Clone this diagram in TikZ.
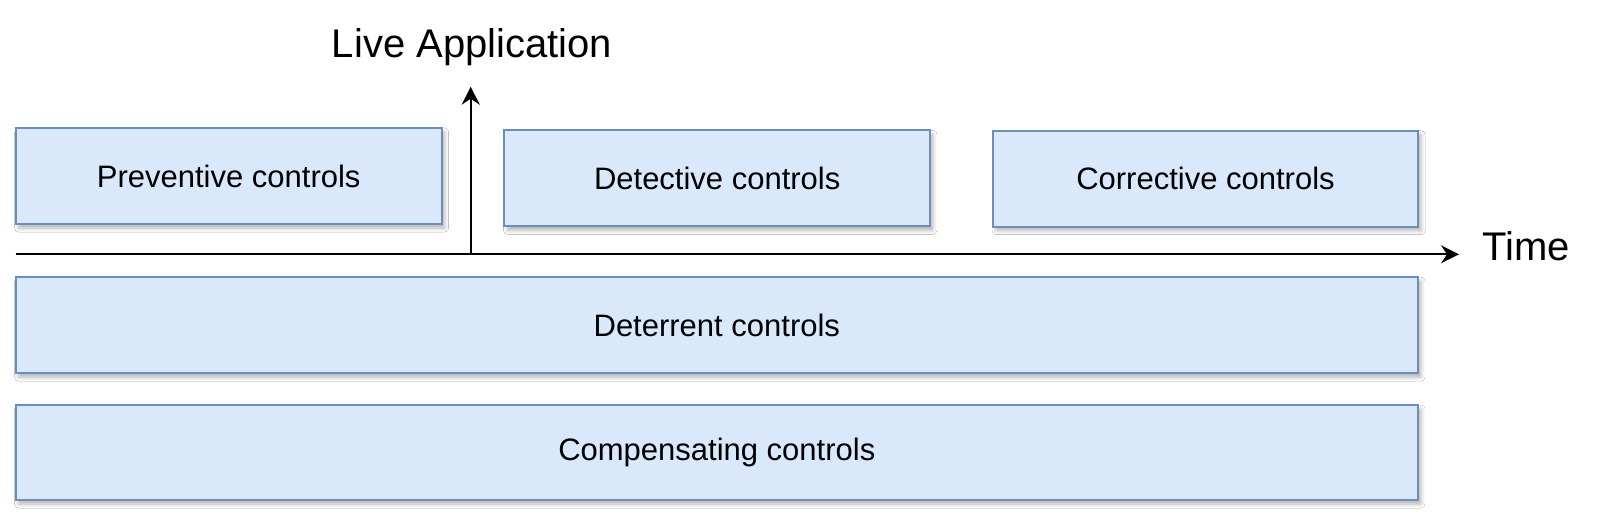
\documentclass[tikz,border=0pt]{standalone}
\usepackage{fontspec}
\setmainfont{Liberation Sans}
\usetikzlibrary{arrows.meta,shadows.blur}
\definecolor{boxfill}{HTML}{DAE8FC}
\definecolor{boxline}{HTML}{6C8EBF}
\begin{document}
\begin{tikzpicture}[x=1pt,y=-1pt,
  ctrl/.style={draw=boxline, fill=boxfill, line width=2pt, minimum width=#1,
    minimum height=96pt, inner sep=0pt, font=\fontsize{31}{37}\selectfont,
    blur shadow={shadow xshift=3pt, shadow yshift=-4pt, shadow blur radius=4pt, shadow opacity=30}},
  axis/.style={line width=2pt, -{Stealth[length=18pt,width=18pt,inset=6pt]}},
  biglabel/.style={font=\fontsize{40}{48}\selectfont, inner sep=0pt}]
\useasboundingbox[fill=white] (0,0) rectangle (1600,519);
\node[ctrl=426pt] (prev) at (228.7,176) {Preventive controls};
\node[ctrl=425.5pt] (det) at (717.2,178.3) {Detective controls};
\node[ctrl=425pt] (cor) at (1205.5,178.7) {Corrective controls};
\node[ctrl=1402.3pt] (deter) at (716.8,325.2) {Deterrent controls};
\node[ctrl=1402.3pt, minimum height=95pt] (comp) at (716.8,452.5) {Compensating controls};
\coordinate (t0) at (15.7,254.3);
\coordinate (t1) at (1459,254.3);
\coordinate (origin) at (470.7,254.3);
\coordinate (up) at (470.7,86.7);
\draw[axis] (t0) -- (t1);
\draw[axis] (origin) -- (up);
\node[biglabel, anchor=base] (live) at (472,57.3) {Live Application};
\node[biglabel, anchor=base west] (time) at (1482,260) {Time};
\end{tikzpicture}
\end{document}
